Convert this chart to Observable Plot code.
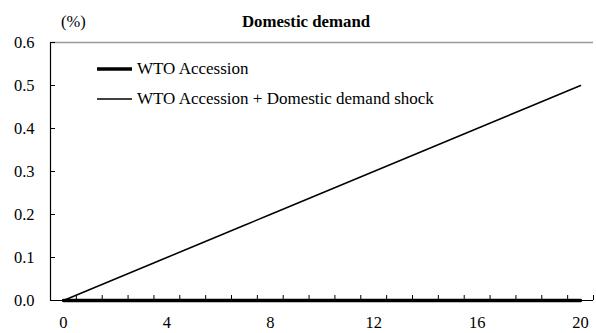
<!DOCTYPE html>
<html>
<head>
<meta charset="utf-8">
<script src="https://cdn.jsdelivr.net/npm/d3@7"></script>
<script src="https://cdn.jsdelivr.net/npm/@observablehq/plot@0.6"></script>
<style>
  html, body { margin: 0; padding: 0; background: #fff; }
  #wrap { position: relative; width: 596px; height: 333px; font-family: "Liberation Serif", "DejaVu Serif", serif; color: #000; }
  #title { position: absolute; left: 0; width: 612px; top: 11px; text-align: center; font-weight: bold; font-size: 16.8px; line-height: 22px; }
  #unit { position: absolute; left: 61px; top: 11px; font-size: 16.5px; line-height: 22px; }
  .leg { position: absolute; left: 97px; display: flex; align-items: center; font-size: 17px; line-height: 20px; white-space: nowrap; }
  .leg svg { display: block; margin-right: 5px; }
  svg text { font-family: "Liberation Serif", "DejaVu Serif", serif; }
</style>
</head>
<body>
<div id="wrap">
  <div id="chart"></div>
  <div id="title"></div>
  <div id="unit"></div>
  <div id="legend"></div>
</div>
<script>
const title = "Domestic demand";
const unitLabel = "(%)";
const periods = [0,1,2,3,4,5,6,7,8,9,10,11,12,13,14,15,16,17,18,19,20];
const wtoAccession = [0,0,0,0,0,0,0,0,0,0,0,0,0,0,0,0,0,0,0,0,0];
const wtoPlusShock = [0,0.025,0.05,0.075,0.1,0.125,0.15,0.175,0.2,0.225,0.25,0.275,0.3,0.325,0.35,0.375,0.4,0.425,0.45,0.475,0.5];
const seriesNames = ["WTO Accession", "WTO Accession + Domestic demand shock"];
const xTickLabels = [0,4,8,12,16,20];
const yTickLabels = [0,0.1,0.2,0.3,0.4,0.5,0.6];

const rows1 = periods.map((p, i) => ({x: p, y: wtoAccession[i]}));
const rows2 = periods.map((p, i) => ({x: p, y: wtoPlusShock[i]}));
const boundaries = periods.map(p => p + 0.5).concat([periods[0] - 0.5]);
const xMin = periods[0] - 0.5, xMax = periods[periods.length - 1] + 0.5;

const chart = Plot.plot({
  width: 596,
  height: 333,
  marginLeft: 50,
  marginRight: 3,
  marginTop: 42,
  marginBottom: 33,
  style: {fontFamily: "'Liberation Serif', 'DejaVu Serif', serif", fontSize: "16.5px", background: "#fff", color: "#000"},
  x: {domain: [xMin, xMax]},
  y: {domain: [0, 0.6]},
  marks: [
    Plot.ruleY([0.6], {stroke: "#999", strokeWidth: 1.5}),
    Plot.ruleX([xMin], {y1: 0, y2: 0.6, stroke: "#000", strokeWidth: 1.2}),
    Plot.ruleY([0], {stroke: "#000", strokeWidth: 1.2}),
    Plot.axisY({anchor: "left", ticks: yTickLabels, tickSize: 0, tickPadding: 16, tickFormat: d => d.toFixed(1), label: null, fontSize: "16.5px"}),
    Plot.axisY({anchor: "left", ticks: yTickLabels, tickSize: -5, tickFormat: () => "", label: null}),
    Plot.axisX({anchor: "bottom", ticks: xTickLabels, tickSize: 0, tickPadding: 16, tickFormat: d => String(d), label: null, fontSize: "16.5px"}),
    Plot.axisX({anchor: "bottom", ticks: boundaries, tickSize: -5, tickFormat: () => "", label: null}),
    Plot.line(rows2, {x: "x", y: "y", stroke: "#000", strokeWidth: 1.5}),
    Plot.line(rows1, {x: "x", y: "y", stroke: "#000", strokeWidth: 3.5})
  ]
});
document.getElementById("chart").appendChild(chart);
document.getElementById("title").textContent = title;
document.getElementById("unit").textContent = unitLabel;

const legend = document.getElementById("legend");
const legTops = [59, 89];
const legWidths = [3.5, 1.5];
seriesNames.forEach((name, i) => {
  const row = document.createElement("div");
  row.className = "leg";
  row.style.top = legTops[i] + "px";
  row.innerHTML = `<svg width="35" height="8"><line x1="0" x2="35" y1="4" y2="4" stroke="#000" stroke-width="${legWidths[i]}"/></svg><span></span>`;
  row.querySelector("span").textContent = name;
  legend.appendChild(row);
});
</script>
</body>
</html>
